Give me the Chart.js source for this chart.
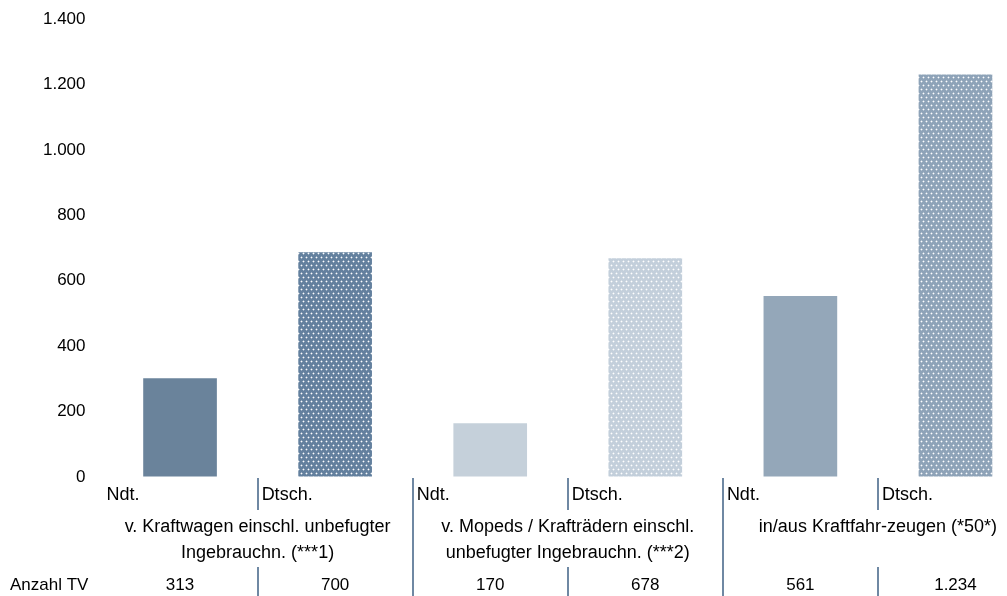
<!DOCTYPE html>
<html>
<head>
<meta charset="utf-8">
<script src="https://cdn.jsdelivr.net/npm/chart.js@4/dist/chart.umd.min.js"></script>
<style>
  html, body { margin: 0; padding: 0; background: #fff; overflow: hidden; width: 1007px; height: 596px; }
  #wrap { position: relative; width: 1040px; height: 596px; }
</style>
</head>
<body>
<div id="wrap"><canvas id="c"></canvas></div>
<script>
// ---- data ----
const categories = ["Ndt.", "Dtsch.", "Ndt.", "Dtsch.", "Ndt.", "Dtsch."];
const barValues = [302, 687, 164, 669, 553, 1230];
const groupLabels = [
  ["v. Kraftwagen einschl. unbefugter", "Ingebrauchn. (***1)"],
  ["v. Mopeds / Krafträdern einschl.", "unbefugter Ingebrauchn. (***2)"],
  ["in/aus Kraftfahr-zeugen (*50*)"]
];
const rowLabel = "Anzahl TV";
const tableValues = ["313", "700", "170", "678", "561", "1.234"];
const yTicks = [0, 200, 400, 600, 800, 1000, 1200, 1400];

// ---- styles ----
const baseColors = ["#6a839b", "#63809e", "#c5d0da", "#c3cfdb", "#94a7b9", "#8ea3b8"];
const dotted = [false, true, false, true, false, true];
const FONT = "'Liberation Sans', Arial, sans-serif";
const SEP = "#6f88a3";

function makePattern(color) {
  const c = document.createElement('canvas');
  c.width = 5; c.height = 8;
  const g = c.getContext('2d');
  g.fillStyle = color; g.fillRect(0, 0, 5, 8);
  const dot = (x, y) => {
    g.fillStyle = 'rgba(255,255,255,0.35)';
    g.fillRect(x - 1, y, 3, 1);
    g.fillRect(x, y - 1, 1, 3);
    g.fillStyle = 'rgba(255,255,255,0.95)';
    g.fillRect(x, y, 1, 1);
  };
  dot(1, 1);
  dot(3, 5);
  return g.createPattern(c, 'repeat');
}
const fills = baseColors.map((c, i) => dotted[i] ? makePattern(c) : c);

function fmt(v) { return String(v).replace(/\B(?=(\d{3})+(?!\d))/g, '.'); }

const tablePlugin = {
  id: 'tablePlugin',
  afterDraw(chart) {
    const ctx = chart.ctx;
    const x = chart.scales.x;
    const n = categories.length;
    const px = i => x.getPixelForValue(i);
    ctx.save();
    // separators
    ctx.strokeStyle = SEP;
    ctx.lineWidth = 2;
    for (let i = 1; i < n; i++) {
      const bx = Math.round((px(i - 1) + px(i)) / 2);
      ctx.beginPath();
      if (i % 2 === 0) {
        ctx.moveTo(bx, 478); ctx.lineTo(bx, 596);
      } else {
        ctx.moveTo(bx, 478); ctx.lineTo(bx, 510);
        ctx.moveTo(bx, 567); ctx.lineTo(bx, 596);
      }
      ctx.stroke();
    }
    // group labels
    ctx.fillStyle = '#000';
    ctx.font = "18px " + FONT;
    ctx.textAlign = 'center';
    ctx.textBaseline = 'middle';
    groupLabels.forEach((lines, g) => {
      const cx = (px(2 * g) + px(2 * g + 1)) / 2;
      lines.forEach((t, k) => ctx.fillText(t, cx, 527 + k * 26));
    });
    // values row
    ctx.font = "17px " + FONT;
    tableValues.forEach((t, i) => ctx.fillText(t, px(i), 585));
    ctx.textAlign = 'left';
    ctx.fillText(rowLabel, 10, 585);
    ctx.restore();
  }
};

new Chart(document.getElementById('c'), {
  type: 'bar',
  data: {
    labels: categories,
    datasets: [{
      data: barValues,
      backgroundColor: fills,
      borderWidth: 0,
      barPercentage: 0.475,
      categoryPercentage: 1.0
    }]
  },
  options: {
    responsive: true,
    maintainAspectRatio: false,
    animation: false,
    layout: { padding: { top: 19, right: 7, bottom: 0, left: 0 } },
    plugins: { legend: { display: false }, tooltip: { enabled: false } },
    scales: {
      y: {
        min: 0, max: 1400,
        afterBuildTicks: s => { s.ticks = yTicks.map(v => ({ value: v })); },
        afterFit: s => { s.width = 102.5; },
        grid: { display: true, drawOnChartArea: false, drawTicks: true, tickLength: 17, color: 'rgba(0,0,0,0)' },
        border: { display: false },
        ticks: {
          padding: 0,
          color: '#000',
          font: { family: FONT, size: 17 },
          callback: v => fmt(v)
        }
      },
      x: {
        offset: true,
        afterFit: s => { s.height = 119; },
        grid: { display: false, drawTicks: false },
        border: { display: false },
        ticks: {
          align: 'start',
          labelOffset: -73.5,
          padding: 7,
          autoSkip: false,
          maxRotation: 0,
          minRotation: 0,
          color: '#000',
          font: { family: FONT, size: 18 }
        }
      }
    }
  },
  plugins: [tablePlugin]
});
</script>
</body>
</html>
